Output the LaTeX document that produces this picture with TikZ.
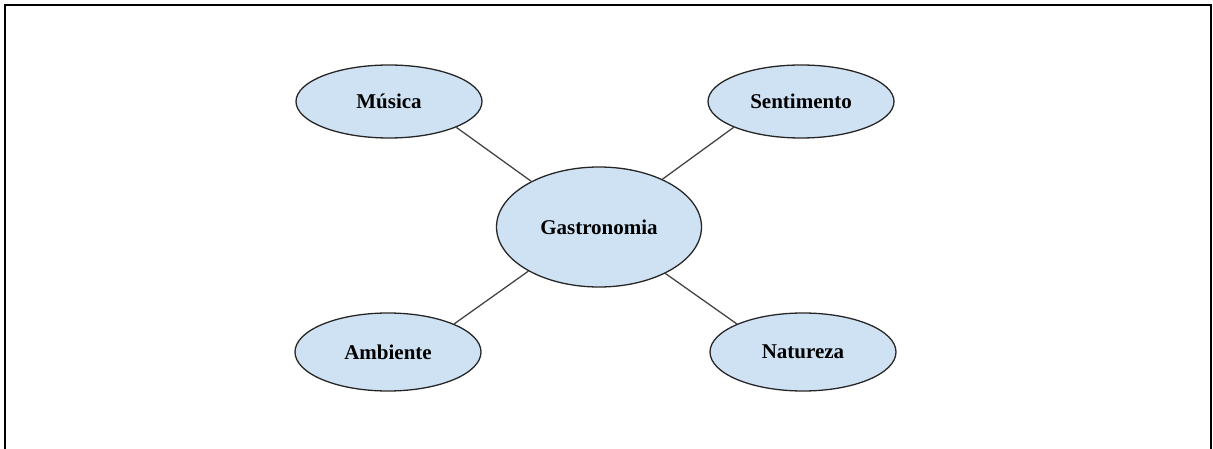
\documentclass[tikz,border=0pt]{standalone}
\usepackage{fontspec}
\setmainfont{Liberation Serif}
\usetikzlibrary{shapes.geometric}
\definecolor{bubblefill}{HTML}{CFE2F3}
\definecolor{edgegray}{HTML}{444444}
\begin{document}
\begin{tikzpicture}[x=1pt,y=-1pt,
  bubble/.style={ellipse,draw=black!85,line width=1.3pt,fill=bubblefill,
    inner sep=0pt,font=\bfseries\fontsize{21}{24}\selectfont},
  upper/.style={bubble,minimum width=186pt,minimum height=73pt},
  lower/.style={bubble,minimum width=186pt,minimum height=78pt},
  big/.style={bubble,minimum width=205pt,minimum height=120pt},
  link/.style={draw=edgegray,line width=1.3pt}]
  \useasboundingbox (0,0) rectangle (1213,449);
  % open frame: top, left and right sides
  \draw[line width=2.5pt] (5,449) -- (5,5) -- (1211,5) -- (1211,449);
  \node[big]   (g) at (599,227)   {Gastronomia};
  \node[upper] (m) at (389,101.5) {Música};
  \node[upper] (s) at (801,101.5) {Sentimento};
  \node[lower] (a) at (388,352)   {Ambiente};
  \node[lower] (n) at (803,352)   {Natureza};
  \draw[link] (m.-21) -- (g.146);
  \draw[link] (s.-159) -- (g.37);
  \draw[link] (a.23) -- (g.-148);
  \draw[link] (n.157) -- (g.-35);
\end{tikzpicture}
\end{document}
